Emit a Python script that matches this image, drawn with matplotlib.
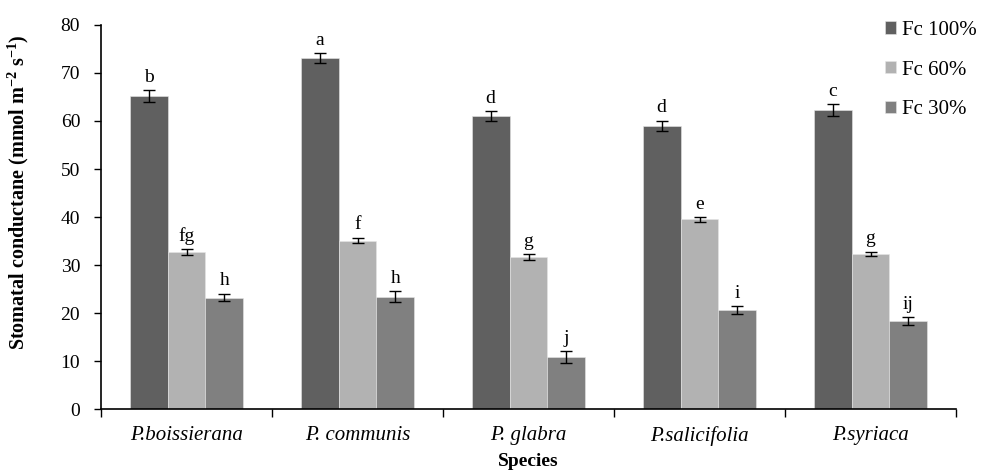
import matplotlib
matplotlib.use("Agg")
import matplotlib.pyplot as plt
import numpy as np

plt.rcParams['font.family'] = ['Liberation Serif', 'DejaVu Serif']
plt.rcParams['mathtext.fontset'] = 'custom'
plt.rcParams['mathtext.rm'] = 'Liberation Serif'
plt.rcParams['mathtext.bf'] = 'Liberation Serif:bold'

species = ["P.boissierana", "P. communis", "P. glabra", "P.salicifolia", "P.syriaca"]
series = ["Fc 100%", "Fc 60%", "Fc 30%"]
fc100 = [65.2, 73.1, 61.0, 59.0, 62.3]
fc60 = [32.7, 35.1, 31.6, 39.5, 32.3]
fc30 = [23.2, 23.4, 10.8, 20.6, 18.3]
err100 = [1.2, 1.0, 1.0, 1.1, 1.2]
err60 = [0.6, 0.6, 0.6, 0.5, 0.5]
err30 = [0.8, 1.1, 1.2, 0.8, 0.8]
let100 = ["b", "a", "d", "d", "c"]
let60 = ["fg", "f", "g", "e", "g"]
let30 = ["h", "h", "j", "i", "ij"]

colors = ["#606060", "#b2b2b2", "#808080"]

fig = plt.figure(figsize=(9.82, 4.75), dpi=100)
ax = fig.add_axes([101/982, 1 - 409/475, (956 - 101)/982, (409 - 25)/475])

x = np.arange(len(species))
w = 0.222
vals = [fc100, fc60, fc30]
errs = [err100, err60, err30]
lets = [let100, let60, let30]
for i in range(3):
    pos = x + (i - 1) * w
    ax.bar(pos, vals[i], width=w, color=colors[i], edgecolor="#e6e6e6",
           linewidth=0.4, label=series[i], zorder=2)
    ax.errorbar(pos, vals[i], yerr=errs[i], fmt="none", ecolor="black",
                elinewidth=1.0, capsize=4, capthick=1.0, zorder=3)
    for p, v, e, t in zip(pos, vals[i], errs[i], lets[i]):
        ax.text(p, v + e + 0.9, t, ha="center", va="bottom", fontsize=14)

ax.set_xlim(-0.5, len(species) - 0.5)
ax.set_ylim(0, 80)
ax.set_yticks(np.arange(0, 81, 10))
ax.tick_params(axis="y", labelsize=14, direction="out", length=5, width=1, pad=10)
ax.set_xticks(np.arange(-0.5, len(species), 1.0))
ax.set_xticklabels([])
ax.set_xticks(x, minor=True)
ax.set_xticklabels(species, minor=True, fontsize=15, style="italic")
ax.tick_params(axis="x", which="major", direction="out", length=6, width=1)
ax.tick_params(axis="x", which="minor", length=0, pad=12)
for s in ["top", "right"]:
    ax.spines[s].set_visible(False)
for s in ["left", "bottom"]:
    ax.spines[s].set_linewidth(1.2)

ax.set_ylabel(r"Stomatal conductane (mmol m$^{\mathbf{-2}}$ s$^{\mathbf{-1}}$)",
              fontsize=14.5, fontweight="bold")
ax.yaxis.set_label_coords(-0.082, 0.565)
ax.set_xlabel("Species", fontsize=14, fontweight="bold", labelpad=5)

ax.legend(loc="upper left", bbox_to_anchor=(0.895, 1.06), frameon=False,
          fontsize=15, handlelength=0.55, handleheight=0.55, handletextpad=0.25,
          labelspacing=1.0)

fig.savefig("out.png", dpi=100)
